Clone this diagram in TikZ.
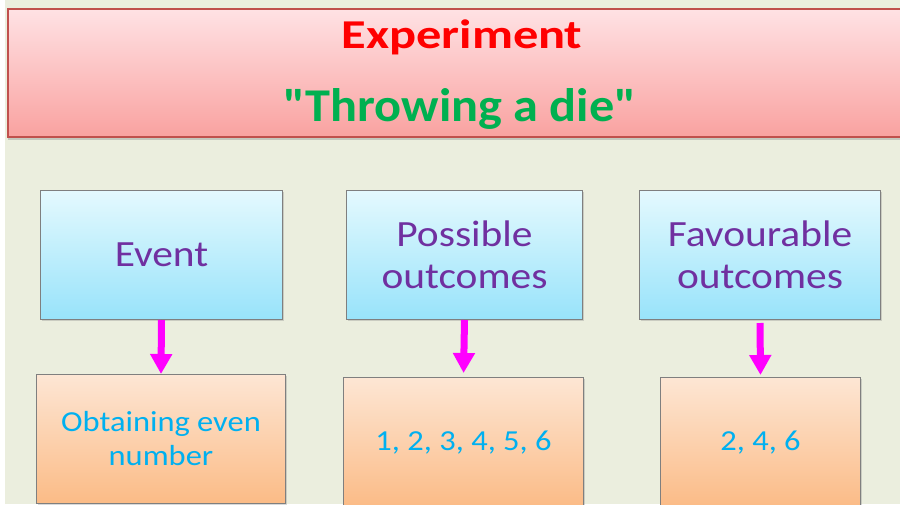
\documentclass[tikz,border=0pt]{standalone}
\usepackage{fontspec}
\setmainfont{Carlito}[FakeStretch=1.12]
\newfontfamily\headfontwide{Carlito}[FakeStretch=1.23]
\newfontfamily\headfontnarrow{Carlito}[FakeStretch=1.07]
\usetikzlibrary{arrows.meta,shadows}

\definecolor{bgbeige}{HTML}{EBEEDE}
\definecolor{bandtop}{HTML}{FFE2E4}
\definecolor{bandbot}{HTML}{F9A2A0}
\definecolor{bandline}{HTML}{C0504D}
\definecolor{bluetop}{HTML}{E4F9FE}
\definecolor{bluebot}{HTML}{98E3FA}
\definecolor{orangetop}{HTML}{FDE6D4}
\definecolor{orangebot}{HTML}{FBBB86}
\definecolor{boxline}{HTML}{7F7F7F}
\definecolor{titlered}{HTML}{FF0000}
\definecolor{titlegreen}{HTML}{00B050}
\definecolor{headpurple}{HTML}{7030A0}
\definecolor{valuecyan}{HTML}{00B0F0}
\definecolor{arrowmag}{HTML}{FF00FF}

\tikzset{
  bandbox/.style={draw=bandline, line width=1.3pt, top color=bandtop, bottom color=bandbot,
    drop shadow={shadow xshift=0pt, shadow yshift=-3pt, opacity=0.35}},
  headbox/.style={draw=boxline, line width=1pt, top color=bluetop, bottom color=bluebot,
    anchor=north west, inner sep=0pt, align=center, text=headpurple,
    font=\fontsize{37}{42}\selectfont,
    drop shadow={shadow xshift=1.5pt, shadow yshift=-1.5pt, opacity=0.3}},
  valuebox/.style={draw=boxline, line width=1pt, top color=orangetop, bottom color=orangebot,
    anchor=north west, inner sep=0pt, align=center, text=valuecyan,
    font=\fontsize{29}{34}\selectfont,
    drop shadow={shadow xshift=1.5pt, shadow yshift=-1.5pt, opacity=0.3}},
  flow/.style={arrowmag, line width=7pt, -{Triangle[width=21pt,length=20pt]}},
}

\begin{document}
\begin{tikzpicture}[x=1pt,y=-1pt]
\useasboundingbox (0,0) rectangle (900,504);
\clip (0,0) rectangle (900,504);
% page background
\fill[white] (0,0) rectangle (900,504);
\fill[bgbeige] (5,0) rectangle (900,504);

% title band
\path[bandbox] (8,9) rectangle (910,137);
\node[anchor=base, text=titlered, font=\headfontwide\bfseries\fontsize{41}{41}\selectfont] (title) at (462,48) {Experiment};
\node[anchor=base, text=titlegreen, font=\headfontnarrow\bfseries\fontsize{47}{47}\selectfont] (subtitle) at (460,121) {\symbol{34}Throwing a die\symbol{34}};

% heading boxes
\node[headbox, minimum width=242pt, minimum height=129pt] (event) at (40,190) {Event};
\node[headbox, minimum width=236pt, minimum height=129pt] (possible) at (346,190) {Possible\\outcomes};
\node[headbox, minimum width=241pt, minimum height=129pt] (favour) at (639,190) {Favourable\\outcomes};

% value boxes
\node[valuebox, minimum width=249pt, minimum height=129pt] (evval) at (36,374) {Obtaining even\\number};
\node[valuebox, minimum width=240pt, minimum height=130pt] (posval) at (343,377) {1, 2, 3, 4, 5, 6};
\node[valuebox, minimum width=200pt, minimum height=130pt] (favval) at (660,377) {2, 4, 6};

% connectors
\draw[flow] (event.south) -- (evval.north);
\draw[flow, shorten >=4pt] (possible.south) -- (posval.north);
\draw[flow, shorten <=3pt, shorten >=2pt] (favour.south) -- (favval.north);
\end{tikzpicture}
\end{document}
